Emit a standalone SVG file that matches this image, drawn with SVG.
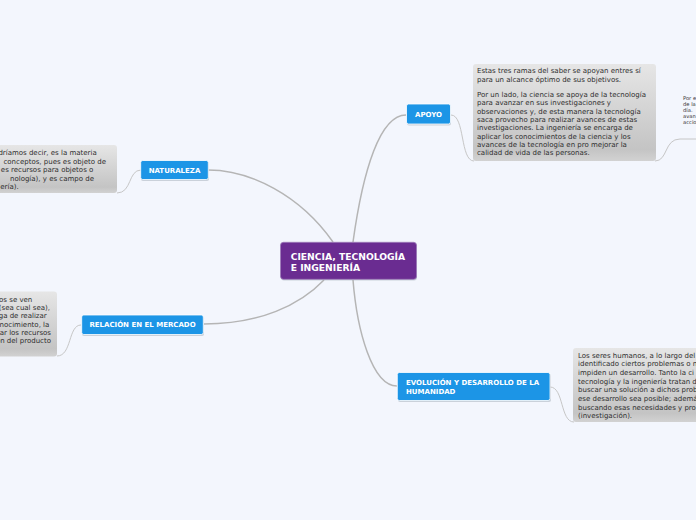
<svg xmlns="http://www.w3.org/2000/svg" width="696" height="520" viewBox="0 0 696 520">
  <defs>
    <linearGradient id="noteGrad" x1="0" y1="0" x2="0" y2="1">
      <stop offset="0" stop-color="#e6e6e6"/>
      <stop offset="0.88" stop-color="#c4c4c4"/>
      <stop offset="1" stop-color="#d2d2d2"/>
    </linearGradient>
  </defs>
  <style>
    .bg { fill: #f3f6fd; }
    .conn { fill: none; stroke: #b5b5b5; stroke-width: 1.5; }
    .nconn { fill: none; stroke: #c6c6c6; stroke-width: 1; }
    .topic { fill: #1c95e6; stroke: #ffffff; stroke-width: 0.8; }
    .shadow { fill: #9aa3b0; opacity: 0.45; }
    .central { fill: #6a2c91; stroke: #9c7ab8; stroke-width: 0.8; }
    .label { font-family: "DejaVu Sans", Verdana, sans-serif; font-weight: bold; fill: #ffffff; font-size: 7px; }
    .clabel { font-family: "DejaVu Sans", Verdana, sans-serif; font-weight: bold; fill: #ffffff; font-size: 9.2px; }
    .note { fill: url(#noteGrad); }
    .ntext { font-family: "DejaVu Sans", Verdana, sans-serif; fill: #2e2e2e; font-size: 7px; }
    .stext { font-family: "DejaVu Sans", Verdana, sans-serif; fill: #333333; font-size: 5.2px; }
  </style>
  <rect class="bg" x="0" y="0" width="696" height="520"/>

  <g id="connectors">
    <path class="conn" d="M353,242 C363,170 380,115 406,115"/>
    <path class="conn" d="M333,242 C300,195 250,170 208,170"/>
    <path class="conn" d="M324,280 C300,305 260,324 204,324"/>
    <path class="conn" d="M353,280 C357,330 372,386 397,386"/>
    <path class="nconn" d="M451,115 C465,115 460,161 474,161"/>
    <path class="nconn" d="M141,170 C128,170 132,193 117,193"/>
    <path class="nconn" d="M81,325 C68,325 72,356 57,356"/>
    <path class="nconn" d="M550,387 C564,387 560,422 574,422"/>
    <path class="nconn" d="M655,161 C668,161 664,139 680,139 L696,139"/>
  </g>

  <g id="central">
    <rect class="shadow" x="281" y="243.5" width="136" height="37" rx="3"/>
    <rect class="central" x="280.5" y="242.3" width="136" height="37" rx="3"/>
    <text class="clabel" x="290.7" y="259.5">CIENCIA, TECNOLOGÍA</text>
    <text class="clabel" x="290.7" y="271">E INGENIERÍA</text>
  </g>

  <g id="apoyo">
    <rect class="shadow" x="407" y="105.5" width="44" height="20" rx="2"/>
    <rect class="topic" x="406.5" y="104" width="44" height="20" rx="2"/>
    <text class="label" x="428.5" y="116.7" text-anchor="middle">APOYO</text>
  </g>

  <g id="naturaleza">
    <rect class="shadow" x="141" y="162" width="68" height="19" rx="2"/>
    <rect class="topic" x="140.7" y="160.5" width="67.6" height="19" rx="2"/>
    <text class="label" x="174.5" y="172.7" text-anchor="middle">NATURALEZA</text>
  </g>

  <g id="relacion">
    <rect class="shadow" x="82" y="316.5" width="122" height="19.5" rx="2"/>
    <rect class="topic" x="81.7" y="315" width="121.6" height="19.5" rx="2"/>
    <text class="label" x="142.5" y="326.7" text-anchor="middle">RELACIÓN EN EL MERCADO</text>
  </g>

  <g id="evolucion">
    <rect class="shadow" x="398" y="374" width="153" height="28" rx="2"/>
    <rect class="topic" x="397.3" y="372.5" width="152.7" height="28" rx="2"/>
    <text class="label" x="406" y="384.5">EVOLUCIÓN Y DESARROLLO DE LA</text>
    <text class="label" x="406" y="393.5">HUMANIDAD</text>
  </g>

  <g id="note-apoyo">
    <rect class="note" x="473" y="64" width="183" height="97" rx="3"/>
    <text class="ntext" x="477" y="73">Estas tres ramas del saber se apoyan entres sí</text>
    <text class="ntext" x="477" y="81.5">para un alcance óptimo de sus objetivos.</text>
    <text class="ntext" x="477" y="97">Por un lado, la ciencia se apoya de la tecnología</text>
    <text class="ntext" x="477" y="105.3">para avanzar en sus investigaciones y</text>
    <text class="ntext" x="477" y="113.6">observaciones y, de esta manera la tecnología</text>
    <text class="ntext" x="477" y="121.9">saca provecho para realizar avances de estas</text>
    <text class="ntext" x="477" y="130.2">investigaciones. La ingeniería se encarga de</text>
    <text class="ntext" x="477" y="138.5">aplicar los conocimientos de la ciencia y los</text>
    <text class="ntext" x="477" y="146.8">avances de la tecnología en pro mejorar la</text>
    <text class="ntext" x="477" y="155.1">calidad de vida de las personas.</text>
  </g>

  <g id="note-small">
    <text class="stext" x="683" y="100">Por e</text>
    <text class="stext" x="683" y="106">de la</text>
    <text class="stext" x="683" y="112">día.</text>
    <text class="stext" x="683" y="118">avan</text>
    <text class="stext" x="683" y="124">accio</text>
  </g>

  <g id="note-naturaleza">
    <rect class="note" x="-5" y="145" width="122" height="48" rx="3"/>
    <text class="ntext" x="96.7" y="155" text-anchor="end">dríamos decir, es la materia</text>
    <text class="ntext" x="106" y="163.5" text-anchor="end">conceptos, pues es objeto de</text>
    <text class="ntext" x="93.3" y="172" text-anchor="end">es recursos para objetos o</text>
    <text class="ntext" x="94" y="180.5" text-anchor="end">nología), y es campo de</text>
    <text class="ntext" x="18.7" y="189" text-anchor="end">ería).</text>
  </g>

  <g id="note-relacion">
    <rect class="note" x="-5" y="291.5" width="62" height="65" rx="3"/>
    <text class="ntext" x="32.3" y="301.5" text-anchor="end">os se ven</text>
    <text class="ntext" x="50" y="310" text-anchor="end">(sea cual sea),</text>
    <text class="ntext" x="46.7" y="318.3" text-anchor="end">ga de realizar</text>
    <text class="ntext" x="49.3" y="326.6" text-anchor="end">nocimiento, la</text>
    <text class="ntext" x="51" y="334.9" text-anchor="end">ar los recursos</text>
    <text class="ntext" x="51" y="343.2" text-anchor="end">on del producto</text>
  </g>

  <g id="note-evolucion">
    <rect class="note" x="573" y="348" width="130" height="74" rx="3"/>
    <text class="ntext" x="578" y="357.5">Los seres humanos, a lo largo del</text>
    <text class="ntext" x="578" y="366.2">identificado ciertos problemas o n</text>
    <text class="ntext" x="578" y="374.9">impiden un desarrollo. Tanto la ci</text>
    <text class="ntext" x="578" y="383.6">tecnología y la ingeniería tratan d</text>
    <text class="ntext" x="578" y="392.3">buscar una solución a dichos prob</text>
    <text class="ntext" x="578" y="401">ese desarrollo sea posible; ademá</text>
    <text class="ntext" x="578" y="409.7">buscando esas necesidades y pro</text>
    <text class="ntext" x="578" y="418.4">(investigación).</text>
  </g>
</svg>
